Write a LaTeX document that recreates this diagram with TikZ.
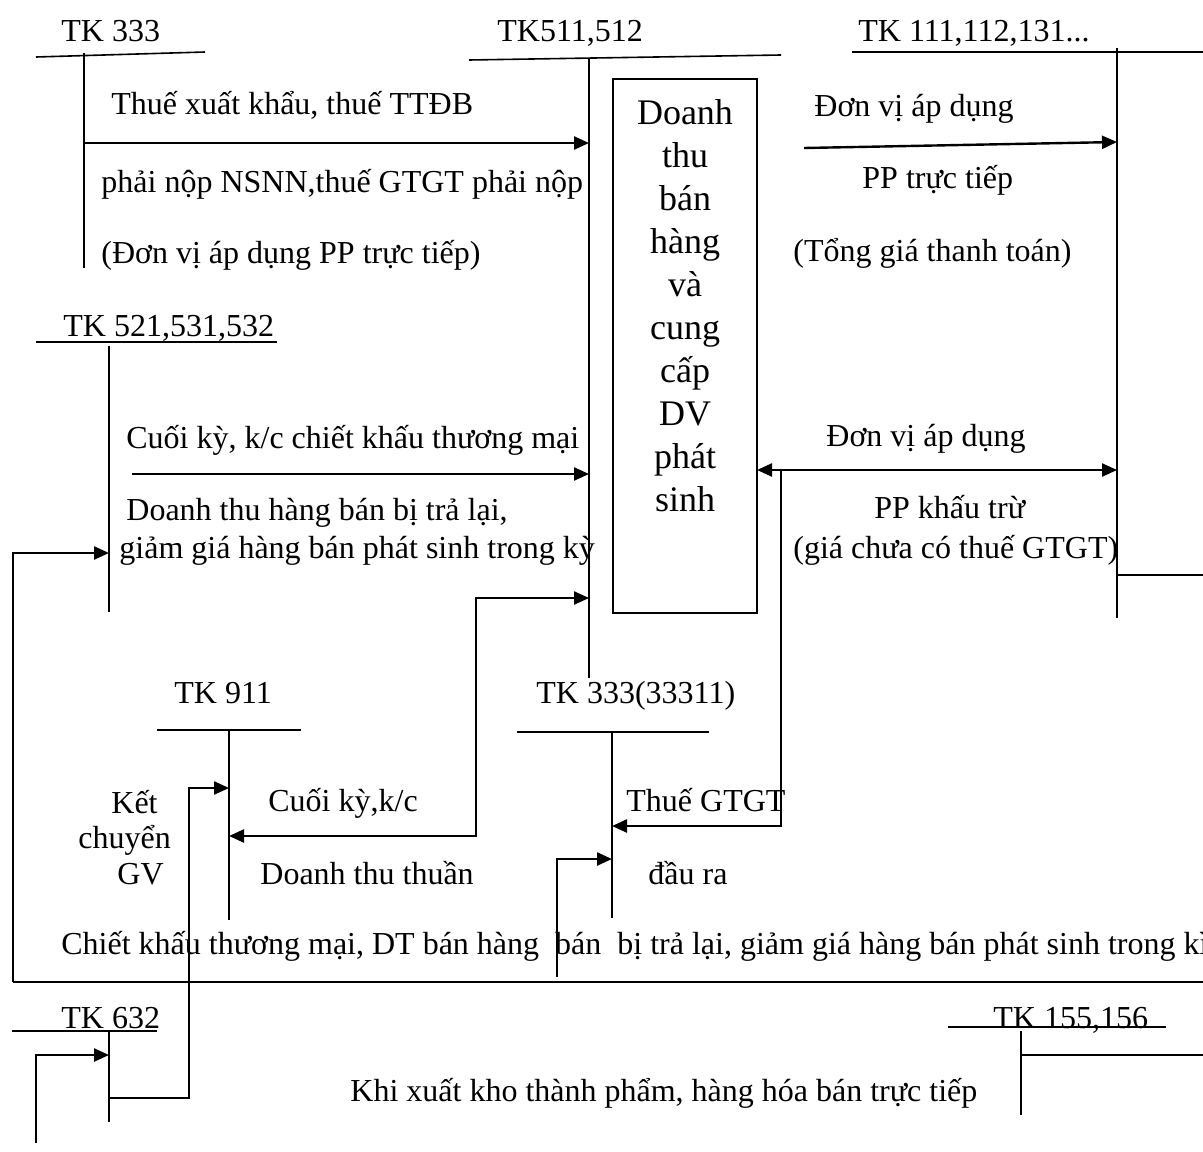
\documentclass[tikz,border=0pt]{standalone}
\usepackage{fontspec}
\setmainfont{Liberation Serif}
\usetikzlibrary{arrows.meta}
\begin{document}
\begin{tikzpicture}[x=0.5pt,y=-0.5pt,
  lbl/.style={anchor=base west,inner sep=0pt,font=\fontsize{16}{19}\selectfont},
  tline/.style={line width=0.8pt},
  arr/.style={line width=1.2pt,-{Triangle[length=7.5pt,width=6.5pt]}},
  darr/.style={line width=1.2pt,{Triangle[length=7.5pt,width=6.5pt]}-{Triangle[length=7.5pt,width=6.5pt]}},
  boxtxt/.style={anchor=north,inner sep=0pt,align=center,font=\fontsize{18}{21.5}\selectfont}]
\useasboundingbox (0,0) rectangle (1203,1151);

% ---------- account titles ----------
\node[lbl] (t333) at (61,41) {TK 333};
\node[lbl] (t511) at (497,41) {TK511,512};
\node[lbl] (t111) at (858,41) {TK 111,112,131...};
\node[lbl] (t521) at (63,336) {TK 521,531,532};
\node[lbl] (t911) at (174,703) {TK 911};
\node[lbl] (t33311) at (536,703) {TK 333(33311)};
\node[lbl] (t632) at (61,1028) {TK 632};
\node[lbl] (t155) at (993,1028) {TK 155,156};

% ---------- T-account lines ----------
\coordinate (h333a) at (36,57);   \coordinate (h333b) at (205,52);
\coordinate (v333a) at (84,53);   \coordinate (v333b) at (84,268);
\coordinate (h511a) at (469,60);  \coordinate (h511b) at (781,55);
\coordinate (v511a) at (589,58);  \coordinate (v511b) at (589,678);
\coordinate (h111a) at (852,52);  \coordinate (h111b) at (1203,52);
\coordinate (v111a) at (1117,48); \coordinate (v111b) at (1117,618);
\coordinate (h521a) at (36,342);  \coordinate (h521b) at (277,342);
\coordinate (v521a) at (109,346); \coordinate (v521b) at (109,612);
\coordinate (h911a) at (157,730); \coordinate (h911b) at (301,730);
\coordinate (v911a) at (229,730); \coordinate (v911b) at (229,920);
\coordinate (h3a) at (517,732);   \coordinate (h3b) at (709,732);
\coordinate (v3a) at (612,732);   \coordinate (v3b) at (612,918);
\coordinate (h632a) at (12,1031); \coordinate (h632b) at (157,1031);
\coordinate (v632a) at (109,1031);\coordinate (v632b) at (109,1122);
\coordinate (h155a) at (948,1027);\coordinate (h155b) at (1166,1027);
\coordinate (v155a) at (1021,1031);\coordinate (v155b) at (1021,1115);

\draw[tline] (h333a) -- (h333b);
\draw[tline] (v333a) -- (v333b);
\draw[tline] (h511a) -- (h511b);
\draw[tline] (v511a) -- (v511b);
\draw[tline] (h111a) -- (h111b);
\draw[tline] (v111a) -- (v111b);
\draw[tline] (h521a) -- (h521b);
\draw[tline] (v521a) -- (v521b);
\draw[tline] (h911a) -- (h911b);
\draw[tline] (v911a) -- (v911b);
\draw[tline] (h3a) -- (h3b);
\draw[tline] (v3a) -- (v3b);
\draw[tline] (h632a) -- (h632b);
\draw[tline] (v632a) -- (v632b);
\draw[tline] (h155a) -- (h155b);
\draw[tline] (v155a) -- (v155b);

% extra lines
\coordinate (e1a) at (1117,575); \coordinate (e1b) at (1203,575);
\coordinate (e2a) at (1021,1055); \coordinate (e2b) at (1203,1055);
\draw[tline] (e1a) -- (e1b);
\draw[tline] (e2a) -- (e2b);

% ---------- central box ----------
\node[draw,line width=0.8pt,minimum width=72pt,minimum height=267pt,inner sep=0pt] (box) at (685,346) {};
\node[boxtxt] (boxtext) at (685,99) {Doanh\\thu\\bán\\hàng\\và\\cung\\cấp\\DV\\phát\\sinh};

% ---------- texts ----------
\node[lbl] (l1) at (111,114) {Thuế xuất khẩu, thuế TTĐB};
\node[lbl] (l2) at (101,192) {phải nộp NSNN,thuế GTGT phải nộp};
\node[lbl] (l3) at (101,263) {(Đơn vị áp dụng PP trực tiếp)};
\node[lbl] (r1) at (814,116) {Đơn vị áp dụng};
\node[lbl] (r2) at (862,188) {PP trực tiếp};
\node[lbl] (r3) at (793,261) {(Tổng giá thanh toán)};
\node[lbl] (m1) at (126,448) {Cuối kỳ, k/c chiết khấu thương mại};
\node[lbl] (m2) at (126,520) {Doanh thu hàng bán bị trả lại,};
\node[lbl] (m3) at (119,558) {giảm giá hàng bán phát sinh trong kỳ};
\node[lbl] (r4) at (826,446) {Đơn vị áp dụng};
\node[lbl] (r5) at (874,518) {PP khấu trừ};
\node[lbl] (r6) at (793,558) {(giá chưa có thuế GTGT)};
\node[lbl] (k1) at (111,813) {Kết};
\node[lbl] (k2) at (78,848) {chuyển};
\node[lbl] (k3) at (117,884) {GV};
\node[lbl] (c1) at (268,811) {Cuối kỳ,k/c};
\node[lbl] (c2) at (260,884) {Doanh thu thuần};
\node[lbl] (g1) at (626,811) {Thuế GTGT};
\node[lbl] (g2) at (648,884) {đầu ra};
\node[lbl] (longt) at (61,954) {Chiết khấu thương mại, DT bán hàng\ \ bán\ \ bị trả lại, giảm giá hàng bán phát sinh trong kì};
\node[lbl] (kx) at (350,1101) {Khi xuất kho thành phẩm, hàng hóa bán trực tiếp};

% ---------- arrows ----------
\coordinate (a1s) at (84,143);  \coordinate (a1e) at (589,143);
\draw[arr] (a1s) -- (a1e);
\coordinate (a2s) at (804,148); \coordinate (a2e) at (1117,142);
\draw[arr] (a2s) -- (a2e);
\coordinate (a3s) at (132,474); \coordinate (a3e) at (589,474);
\draw[arr] (a3s) -- (a3e);
% long return line to TK 521
\coordinate (a4s) at (1203,982); \coordinate (a4c) at (13,982);
\coordinate (a4d) at (13,553); \coordinate (a4e) at (109,553);
\draw[tline,line width=1pt] (a4s) -- (a4c);
\draw[arr] (a4c) -- (a4d) -- (a4e);
% 511 <-> 911
\coordinate (a5s) at (589,598); \coordinate (a5b) at (476,598);
\coordinate (a5c) at (476,836); \coordinate (a5e) at (229,836);
\draw[darr] (a5s) -- (a5b) -- (a5c) -- (a5e);
% double arrow box <-> 111
\coordinate (a6s) at (757,470); \coordinate (a6e) at (1117,470);
\draw[darr] (a6s) -- (a6e);
% to 33311
\coordinate (a7s) at (781,470); \coordinate (a7b) at (781,826);
\coordinate (a7e) at (612,826);
\draw[arr] (a7s) -- (a7b) -- (a7e);
\coordinate (a8s) at (557,977); \coordinate (a8b) at (557,859);
\coordinate (a8e) at (612,859);
\draw[arr] (a8s) -- (a8b) -- (a8e);
% 632 -> 911
\coordinate (a9s) at (109,1098); \coordinate (a9b) at (189,1098);
\coordinate (a9c) at (189,788); \coordinate (a9e) at (229,788);
\draw[arr] (a9s) -- (a9b) -- (a9c) -- (a9e);
% into 632
\coordinate (a10s) at (36,1143); \coordinate (a10b) at (36,1055);
\coordinate (a10e) at (109,1055);
\draw[arr] (a10s) -- (a10b) -- (a10e);
\end{tikzpicture}
\end{document}
